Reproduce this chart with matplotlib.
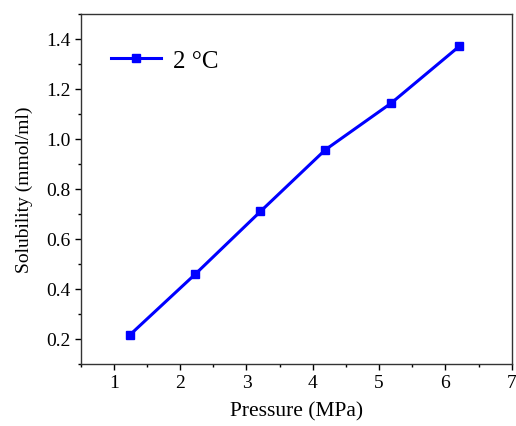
import numpy as np
from matplotlib import pyplot as plt
from matplotlib.ticker import MultipleLocator

pressure = [1.24, 2.23, 3.21, 4.19, 5.18, 6.21]
solubility = [0.216, 0.460, 0.710, 0.957, 1.143, 1.371]
series_label = '2 °C'

plt.rcParams['font.family'] = ['Liberation Serif', 'DejaVu Serif']

fig = plt.figure(figsize=(5.16, 4.27), dpi=100)
ax = fig.add_axes([0.1564, 0.1452, 0.8353, 0.8197])

ax.plot(pressure, solubility, color='#0000ff', lw=2.2, marker='s', markersize=5.5,
        label=series_label)

ax.set_xlim(0.5, 7)
ax.set_ylim(0.1, 1.5)
ax.xaxis.set_major_locator(MultipleLocator(1))
ax.xaxis.set_minor_locator(MultipleLocator(0.5))
ax.yaxis.set_major_locator(MultipleLocator(0.2))
ax.yaxis.set_minor_locator(MultipleLocator(0.1))
ax.tick_params(which='both', direction='out', labelsize=14, width=1)
ax.tick_params(which='major', length=4)
ax.tick_params(which='minor', length=2.5)
for s in ax.spines.values():
    s.set_linewidth(1)
    s.set_color('#333333')

ax.set_xlabel('Pressure (MPa)', fontsize=15.5, labelpad=7)
ax.set_ylabel('Solubility (mmol/ml)', fontsize=14, labelpad=9)

ax.legend(loc='upper left', frameon=False, fontsize=18, handlelength=2.0,
          bbox_to_anchor=(0.0, 0.985), borderaxespad=0.8, handletextpad=0.5)

fig.savefig('out.png', dpi=100)
